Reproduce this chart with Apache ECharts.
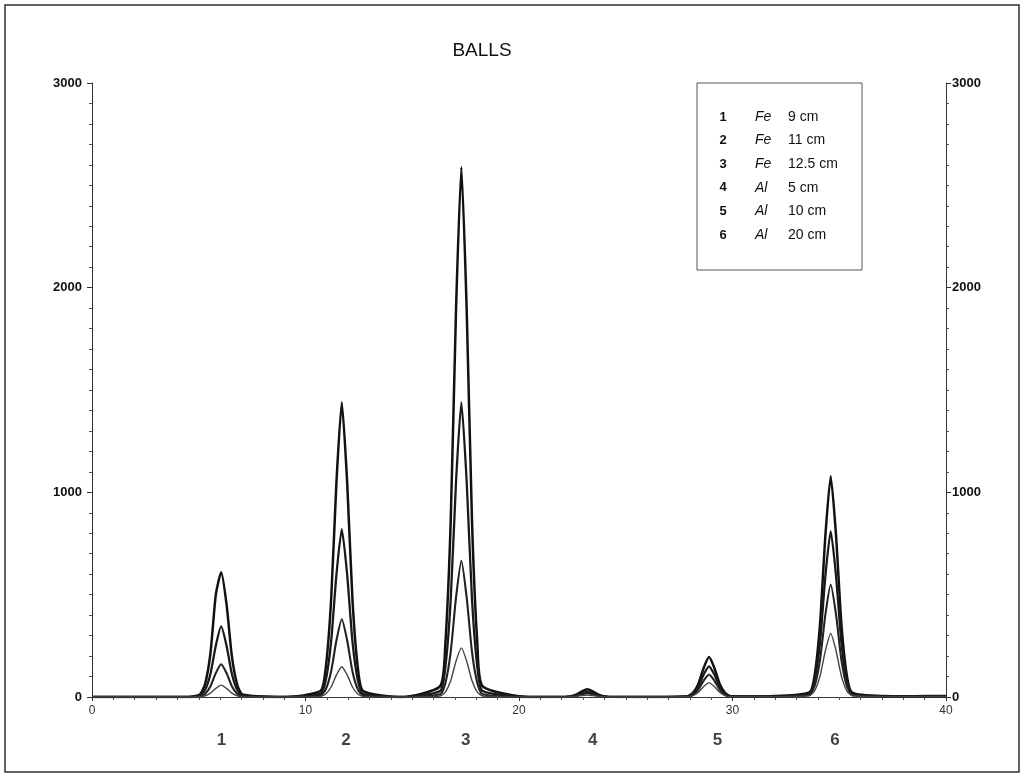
<!DOCTYPE html>
<html>
<head>
<meta charset="utf-8">
<title>BALLS</title>
<script src="https://cdn.jsdelivr.net/npm/echarts@6/dist/echarts.min.js"></script>
<style>
html, body { margin: 0; padding: 0; background: #fff; }
#main { width: 1022px; height: 776px; }
</style>
</head>
<body>
<div id="main"></div>
<script>
// distance along the scan (shared by every curve)
var xs = [
    0, 2.5, 4.5,
    5.05, 5.3, 5.55, 5.8, 6.05, 6.3, 6.55, 6.8, 7.05,
    9,
    10.7, 10.95, 11.2, 11.45, 11.7, 11.95, 12.2, 12.45, 12.7,
    14.5,
    16.3, 16.55, 16.8, 17.05, 17.3, 17.55, 17.8, 18.05, 18.3,
    20.5,
    22.2, 22.45, 22.7, 22.95, 23.2, 23.45, 23.7, 23.95, 24.2,
    26,
    27.9, 28.15, 28.4, 28.65, 28.9, 29.15, 29.4, 29.65, 29.9,
    31.5,
    33.6, 33.85, 34.1, 34.35, 34.6, 34.85, 35.1, 35.35, 35.6,
    37, 38.5, 40
];
// signal of each curve at the xs above
var curveA = [
    0, 0, 0,
    12, 65, 215, 500, 610, 455, 201, 61, 12,
    0,
    29, 144, 475, 1051, 1440, 1051, 475, 144, 29,
    0,
    52, 259, 855, 1891, 2590, 1891, 855, 259, 52,
    0,
    1, 4, 13, 28, 38, 28, 13, 4, 1,
    0,
    4, 20, 64, 142, 195, 142, 64, 20, 4,
    3,
    22, 108, 356, 788, 1080, 788, 356, 108, 22,
    5, 4, 5
];
var curveB = [
    0, 0, 0,
    7, 35, 114, 252, 345, 252, 114, 35, 7,
    0,
    16, 82, 271, 599, 820, 599, 271, 82, 16,
    0,
    29, 144, 475, 1051, 1440, 1051, 475, 144, 29,
    0,
    1, 3, 8, 18, 25, 18, 8, 3, 1,
    0,
    3, 15, 50, 110, 150, 110, 50, 15, 3,
    2,
    16, 81, 267, 591, 810, 591, 267, 81, 16,
    4, 3, 4
];
var curveC = [
    0, 0, 0,
    3, 16, 53, 117, 160, 117, 53, 16, 3,
    0,
    8, 38, 125, 277, 380, 277, 125, 38, 8,
    0,
    13, 67, 219, 485, 665, 485, 219, 67, 13,
    0,
    0, 2, 6, 13, 18, 13, 6, 2, 0,
    0,
    2, 11, 36, 80, 110, 80, 36, 11, 2,
    2,
    11, 55, 182, 402, 550, 402, 182, 55, 11,
    3, 3, 3
];
var curveD = [
    0, 0, 0,
    1, 6, 19, 42, 58, 42, 19, 6, 1,
    0,
    3, 15, 49, 108, 148, 108, 49, 15, 3,
    0,
    5, 24, 79, 175, 240, 175, 79, 24, 5,
    0,
    0, 1, 3, 7, 10, 7, 3, 1, 0,
    0,
    1, 7, 23, 51, 70, 51, 23, 7, 1,
    1,
    6, 31, 102, 226, 310, 226, 102, 31, 6,
    2, 2, 2
];
// ball numbers written under each peak
var ballLabels = ['1', '2', '3', '4', '5', '6'];
var ballLabelX = [6.07, 11.9, 17.5, 23.45, 29.3, 34.8];
// legend table
var legNum = ['1', '2', '3', '4', '5', '6'];
var legMetal = ['Fe', 'Fe', 'Fe', 'Al', 'Al', 'Al'];
var legSize = ['9 cm', '11 cm', '12.5 cm', '5 cm', '10 cm', '20 cm'];

var font = '"Liberation Sans", Arial, sans-serif';

function pairs(ys) {
    var out = [];
    for (var i = 0; i < xs.length; i++) out.push([xs[i], ys[i]]);
    return out;
}

function curve(name, ys, width, color) {
    return {
        name: name,
        type: 'line',
        data: pairs(ys),
        showSymbol: false,
        smooth: 0.2,
        lineStyle: { color: color, width: width },
        z: 3
    };
}

function plain(v) { return String(v); }

// legend box
var legendItems = [{
    type: 'rect',
    shape: { x: 697, y: 83, width: 165, height: 187 },
    style: { fill: '#fff', stroke: '#555', lineWidth: 1 }
}];
for (var i = 0; i < legNum.length; i++) {
    var yy = 117 + i * 23.6;
    legendItems.push({ type: 'text', x: 723, y: yy, style: { text: legNum[i], font: 'bold 13px ' + font, fill: '#111', align: 'center', verticalAlign: 'middle' } });
    legendItems.push({ type: 'text', x: 755, y: yy, style: { text: legMetal[i], font: 'italic 14px ' + font, fill: '#111', verticalAlign: 'middle' } });
    legendItems.push({ type: 'text', x: 788, y: yy, style: { text: legSize[i], font: '14px ' + font, fill: '#111', verticalAlign: 'middle' } });
}

var chart = echarts.init(document.getElementById('main'));
chart.setOption({
    backgroundColor: '#fff',
    animation: false,
    title: {
        text: 'BALLS',
        left: 477,
        top: 36,
        textAlign: 'center',
        textStyle: { fontFamily: font, fontSize: 19, fontWeight: 'normal', color: '#111' }
    },
    graphic: [{
        type: 'rect',
        shape: { x: 5, y: 5, width: 1014, height: 767 },
        style: { fill: 'none', stroke: '#333', lineWidth: 1.5 },
        z: 0
    }].concat(legendItems),
    grid: { left: 92, right: 76, top: 83, bottom: 79 },
    xAxis: {
        type: 'value',
        min: 0,
        max: 40,
        interval: 10,
        axisLine: { onZero: false, lineStyle: { color: '#333', width: 1 } },
        axisTick: { length: 4, lineStyle: { color: '#333' } },
        minorTick: { show: true, splitNumber: 10, length: 3, lineStyle: { color: '#555' } },
        splitLine: { show: false },
        axisLabel: { fontFamily: font, fontSize: 12, color: '#333', margin: 8, formatter: plain }
    },
    yAxis: [{
        type: 'value',
        min: 0,
        max: 3000,
        interval: 1000,
        position: 'left',
        axisLine: { show: true, lineStyle: { color: '#333', width: 1 } },
        axisTick: { show: true, length: 5, lineStyle: { color: '#333' } },
        minorTick: { show: true, splitNumber: 10, length: 3, lineStyle: { color: '#555' } },
        splitLine: { show: false },
        axisLabel: { fontFamily: font, fontSize: 13, fontWeight: 'bold', color: '#111', margin: 10, formatter: plain }
    }, {
        type: 'value',
        min: 0,
        max: 3000,
        interval: 1000,
        position: 'right',
        axisLine: { show: true, lineStyle: { color: '#333', width: 1 } },
        axisTick: { show: true, length: 5, lineStyle: { color: '#333' } },
        minorTick: { show: true, splitNumber: 10, length: 3, lineStyle: { color: '#555' } },
        splitLine: { show: false },
        axisLabel: { fontFamily: font, fontSize: 13, fontWeight: 'bold', color: '#111', margin: 6, formatter: plain }
    }],
    series: [
        curve('a', curveA, 2.5, '#111'),
        curve('b', curveB, 2.3, '#1a1a1a'),
        curve('c', curveC, 2.1, '#222'),
        curve('d', curveD, 1.4, '#444'),
        {
            type: 'scatter',
            silent: true,
            symbolSize: 0,
            data: ballLabelX.map(function (x, i) { return { value: [x, 0], name: ballLabels[i] }; }),
            label: {
                show: true,
                position: 'inside',
                offset: [0, 43],
                formatter: '{b}',
                fontFamily: font,
                fontSize: 17,
                fontWeight: 'bold',
                color: '#111'
            }
        }
    ]
});
</script>
</body>
</html>
